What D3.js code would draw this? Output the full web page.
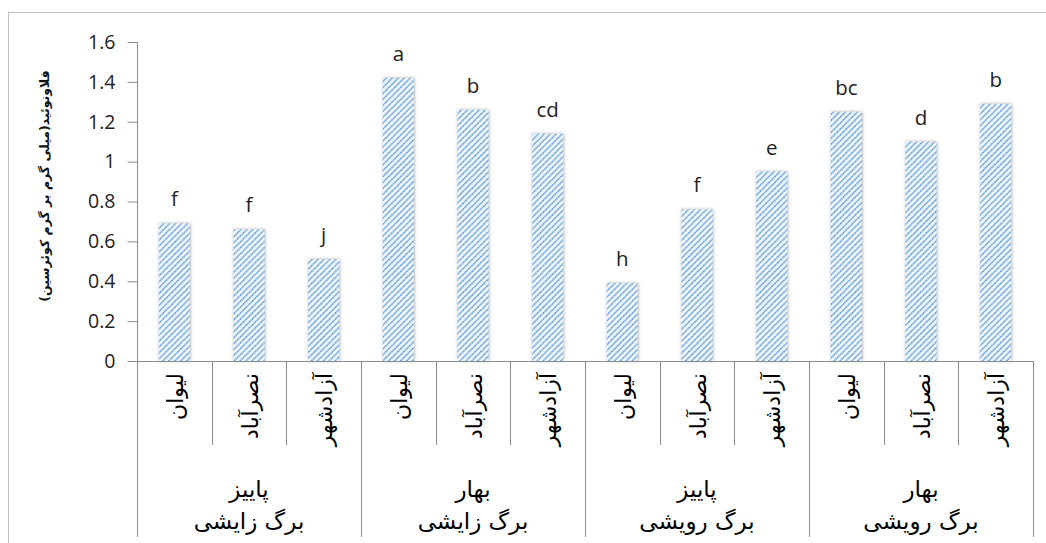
<!DOCTYPE html>
<html>
<head>
<meta charset="utf-8">
<script src="https://cdn.jsdelivr.net/npm/d3@7"></script>
<style>
  html, body { margin: 0; padding: 0; background: #fff; }
  svg { display: block; }
</style>
</head>
<body>
<svg id="chart" width="1046" height="543"></svg>
<script>
// ---- data ----
const sites = ["لیوان", "نصرآباد", "آزادشهر"];
const seasons = ["پاییز", "بهار", "پاییز", "بهار"];
const leafTypes = ["برگ زایشی", "برگ زایشی", "برگ رویشی", "برگ رویشی"];
const values = [0.69, 0.66, 0.51, 1.42, 1.26, 1.14, 0.39, 0.76, 0.95, 1.25, 1.10, 1.29];
const letters = ["f", "f", "j", "a", "b", "cd", "h", "f", "e", "bc", "d", "b"];
const yTicks = [0, 0.2, 0.4, 0.6, 0.8, 1, 1.2, 1.4, 1.6];
const yTitle = "فلاونوئید(میلی گرم بر گرم کوئرسین)";

(function () {
const rows = values.map((v, i) => ({
  id: i,
  site: sites[i % 3],
  group: Math.floor(i / 3),
  value: v,
  letter: letters[i]
}));

const svg = d3.select("#chart");
const mLeft = 137, mRight = 1033, mTop = 42, mBottom = 361, labelBottom = 537;
const persian = "'DejaVu Sans', sans-serif";
const latin = "'Open Sans', 'Liberation Sans', sans-serif";
const axisColor = "#8c8c8c";

// defs: pattern + shadow
const defs = svg.append("defs");
const pat = defs.append("pattern")
  .attr("id", "hatch").attr("patternUnits", "userSpaceOnUse")
  .attr("width", 4.2).attr("height", 4.2)
  .attr("patternTransform", "rotate(45)");
pat.append("rect").attr("width", 4.2).attr("height", 4.2).attr("fill", "#eef5fc");
pat.append("line").attr("x1", 0.8).attr("y1", 0).attr("x2", 0.8).attr("y2", 4.2)
  .attr("stroke", "#5c9ad8").attr("stroke-width", 1.4).attr("stroke-dasharray", "1.6,0.6");
const filt = defs.append("filter").attr("id", "shadow")
  .attr("x", "-30%").attr("y", "-10%").attr("width", "160%").attr("height", "120%");
filt.append("feDropShadow").attr("dx", 0.5).attr("dy", 0).attr("stdDeviation", 1.8)
  .attr("flood-color", "#666").attr("flood-opacity", 0.6);

// outer frame
svg.append("line").attr("x1", 8).attr("x2", 1046).attr("y1", 12.5).attr("y2", 12.5)
  .attr("stroke", "#bfbfbf");
svg.append("line").attr("x1", 8.5).attr("x2", 8.5).attr("y1", 12).attr("y2", 543)
  .attr("stroke", "#bfbfbf");

// scales
const x = d3.scaleBand().domain(rows.map(d => d.id)).range([mLeft, mRight]).paddingInner(0).paddingOuter(0);
const y = d3.scaleLinear().domain([0, 1.6]).range([mBottom, mTop]);
const barW = 31;

// y axis
const yAxis = d3.axisLeft(y).tickValues(yTicks).tickSize(10).tickPadding(12)
  .tickFormat(d => String(+d.toFixed(1)));
const yg = svg.append("g").attr("transform", `translate(${mLeft + 0.5},0)`).call(yAxis);
yg.select(".domain").remove();
yg.selectAll(".tick line").attr("stroke", axisColor);
yg.selectAll(".tick text").attr("font-family", latin).attr("font-size", 19.5).attr("fill", "#222");
svg.append("line").attr("x1", mLeft + 0.5).attr("x2", mLeft + 0.5).attr("y1", mTop).attr("y2", labelBottom)
  .attr("stroke", axisColor);

// y title
svg.append("text")
  .attr("transform", `translate(45,186) rotate(-90)`)
  .attr("text-anchor", "middle").attr("dy", "0.35em")
  .attr("font-family", persian).attr("font-size", 12.5).attr("font-weight", "bold")
  .attr("fill", "#111").text(yTitle);

// bars
svg.append("g").selectAll("rect").data(rows).join("rect")
  .attr("x", d => x(d.id) + (x.bandwidth() - barW) / 2)
  .attr("width", barW)
  .attr("y", d => y(d.value))
  .attr("height", d => mBottom - y(d.value))
  .attr("fill", "url(#hatch)")
  .attr("filter", "url(#shadow)");

// letters
svg.append("g").selectAll("text").data(rows).join("text")
  .attr("x", d => x(d.id) + x.bandwidth() / 2)
  .attr("y", d => y(d.value) - 17)
  .attr("text-anchor", "middle")
  .attr("font-family", latin).attr("font-size", 20.5).attr("fill", "#222")
  .text(d => d.letter);

// x axis line
svg.append("line").attr("x1", mLeft).attr("x2", mRight).attr("y1", mBottom + 0.5).attr("y2", mBottom + 0.5)
  .attr("stroke", axisColor);

// separators
const sepG = svg.append("g");
d3.range(1, rows.length + 1).forEach(i => {
  const xx = Math.round(mLeft + i * x.bandwidth()) + 0.5;
  const isGroup = i % 3 === 0;
  sepG.append("line").attr("x1", xx).attr("x2", xx)
    .attr("y1", mBottom).attr("y2", isGroup ? labelBottom : 445)
    .attr("stroke", axisColor);
});

// category labels (rotated)
svg.append("g").selectAll("text").data(rows).join("text")
  .attr("transform", d => `translate(${x(d.id) + x.bandwidth() / 2 + 1},373) rotate(-90)`)
  .attr("text-anchor", "end").attr("dy", "0.35em")
  .attr("font-family", persian).attr("font-size", 22).attr("fill", "#000")
  .text(d => d.site);

// group labels
const groupW = x.bandwidth() * 3;
seasons.forEach((s, g) => {
  const cx = mLeft + groupW * g + groupW / 2;
  svg.append("text").attr("x", cx).attr("y", 497).attr("text-anchor", "middle")
    .attr("font-family", persian).attr("font-size", 23).attr("fill", "#000").text(s);
  svg.append("text").attr("x", cx).attr("y", 529).attr("text-anchor", "middle")
    .attr("font-family", persian).attr("font-size", 23).attr("fill", "#000").text(leafTypes[g]);
});
})();
</script>
</body>
</html>
